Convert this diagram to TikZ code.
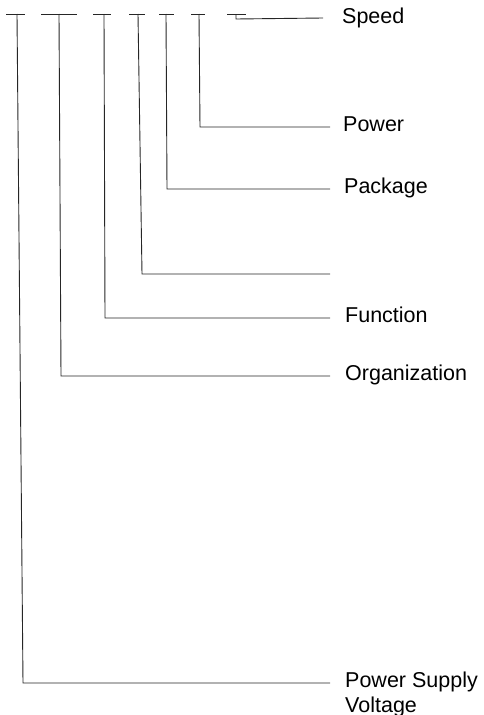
\documentclass[tikz,border=0pt]{standalone}
\usepackage{fontspec}
\setmainfont{Liberation Sans}
\begin{document}
\begin{tikzpicture}[x=1pt,y=-1pt,
  wire/.style={line width=0.9pt,black!85},
  lab/.style={anchor=base west,inner sep=0pt,font=\fontsize{21.5}{25}\selectfont,align=left}]
\useasboundingbox (0,0) rectangle (483,715);
% T-shaped bars along the top edge
\foreach \n/\a/\b/\m in {1/6/25/17, 2/41/77/59, 3/93/111/104, 4/129/145/138,
                        5/159/174/166, 6/191/205/199, 7/227/246/236}{
  \coordinate (l\n) at (\a,14);
  \coordinate (r\n) at (\b,14);
  \coordinate (t\n) at (\m,14);
  \draw[wire] (l\n) -- (r\n);
}
% corners where each stem turns right, and the ends of the leaders
\coordinate (c1) at (23,683);  \coordinate (e1) at (330,683);
\coordinate (c2) at (61,376);  \coordinate (e2) at (330,376);
\coordinate (c3) at (105,318); \coordinate (e3) at (330,318);
\coordinate (c4) at (142,274); \coordinate (e4) at (330,274);
\coordinate (c5) at (167,189); \coordinate (e5) at (330,189);
\coordinate (c6) at (200,127); \coordinate (e6) at (330,127);
\coordinate (c7) at (236,19);  \coordinate (e7) at (323,18);
% labels (baseline a little below each leader)
\node[lab] (pwrsup) at ([xshift=15pt,yshift=-29pt]e1) {Power Supply\\Voltage};
\node[lab] (org)    at ([xshift=15pt,yshift=-4pt]e2) {Organization};
\node[lab] (func)   at ([xshift=15pt,yshift=-4pt]e3) {Function};
\node[lab] (pkg)    at ([xshift=14pt,yshift=-4pt]e5) {Package};
\node[lab] (pwr)    at ([xshift=13pt,yshift=-4pt]e6) {Power};
\node[lab] (speed)  at ([xshift=19pt,yshift=-5pt]e7) {Speed};
% stems and leaders
\foreach \n in {1,...,6}{
  \draw[wire] (t\n) -- (c\n) -- (e\n);
}
\draw[wire] (t7) -- (c7) -- (e7);
\end{tikzpicture}
\end{document}
